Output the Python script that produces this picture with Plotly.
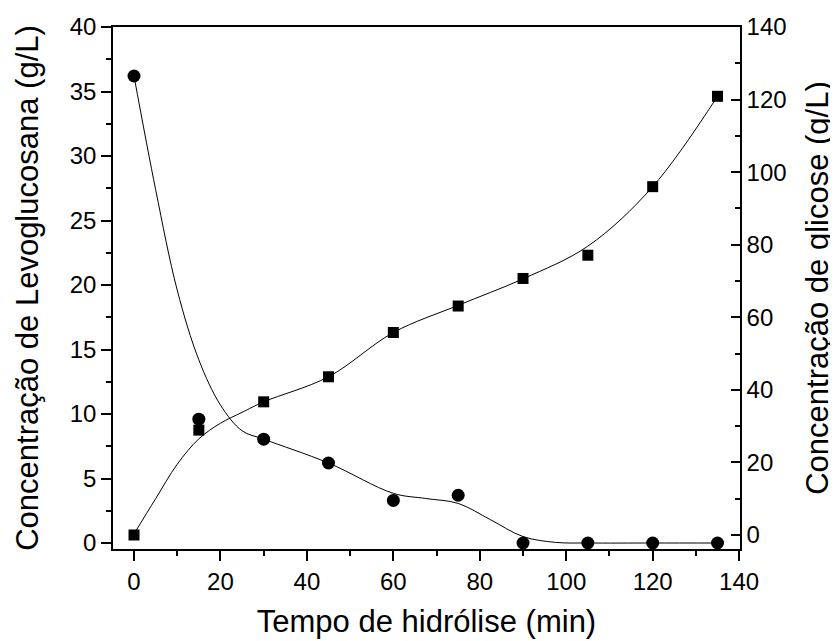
import plotly.graph_objects as go

# measured points
tempo = [0, 15, 30, 45, 60, 75, 90, 105, 120, 135]
levoglucosana = [36.2, 9.6, 8.05, 6.2, 3.3, 3.7, 0.0, 0.0, 0.0, 0.0]
glicose = [0.0, 28.9, 36.7, 43.6, 55.8, 63.1, 70.7, 77.1, 96.0, 120.9]

# fitted curves
lev_fit_t = [0, 5, 10, 15, 20, 25, 30, 45, 60, 67.5, 75, 82.5, 90, 97.5, 105, 120, 135]
lev_fit = [36.2, 27.4, 19.6, 14.2, 10.7, 8.7, 8.05, 6.2, 3.85, 3.45, 3.07, 1.8, 0.5, 0.05, 0.0, 0.0, 0.0]
glu_fit_t = [0, 5, 10, 15, 20, 25, 30, 45, 60, 75, 90, 105, 120, 135]
glu_fit = [0.3, 10.0, 19.5, 26.5, 30.8, 33.8, 36.7, 43.6, 55.8, 63.3, 70.6, 79.6, 96.0, 120.9]

FONT = "Liberation Sans, Arial, sans-serif"
# the page body adds an 8px offset, so margins are shifted to compensate
OFF = 8

fig = go.Figure()

fig.add_trace(go.Scatter(
    x=lev_fit_t, y=lev_fit, mode="lines",
    line=dict(color="black", width=1, shape="spline", smoothing=1),
    showlegend=False, yaxis="y",
))
fig.add_trace(go.Scatter(
    x=glu_fit_t, y=glu_fit, mode="lines",
    line=dict(color="black", width=1, shape="spline", smoothing=1),
    showlegend=False, yaxis="y2",
))
fig.add_trace(go.Scatter(
    x=tempo, y=glicose, mode="markers",
    marker=dict(symbol="square", size=11, color="black"),
    name="Glicose", showlegend=False, yaxis="y2",
))
fig.add_trace(go.Scatter(
    x=tempo, y=levoglucosana, mode="markers",
    marker=dict(symbol="circle", size=13, color="black"),
    name="Levoglucosana", showlegend=False, yaxis="y",
))

fig.update_layout(
    width=838,
    height=641,
    margin=dict(l=113 - OFF, r=98 + OFF, t=27 - OFF, b=92 + OFF),
    paper_bgcolor="white",
    plot_bgcolor="white",
    font=dict(family=FONT, color="black", size=24),
    xaxis=dict(
        range=[-4.86, 140.2],
        tickvals=[0, 20, 40, 60, 80, 100, 120, 140],
        ticks="outside", ticklen=10, tickwidth=1.5, tickcolor="black",
        minor=dict(dtick=10, tick0=0, ticks="outside", ticklen=5, tickwidth=1.5, tickcolor="black"),
        showline=True, linecolor="black", linewidth=1.5, mirror=True,
        showgrid=False, zeroline=False, automargin=False,
        tickfont=dict(size=24),
        title=dict(text="Tempo de hidrólise (min)", font=dict(size=31), standoff=17),
    ),
    yaxis=dict(
        range=[-0.465, 40],
        tickvals=[0, 5, 10, 15, 20, 25, 30, 35, 40],
        ticks="outside", ticklen=10, tickwidth=1.5, tickcolor="black",
        minor=dict(dtick=2.5, tick0=0, ticks="outside", ticklen=5, tickwidth=1.5, tickcolor="black"),
        showline=True, linecolor="black", linewidth=1.5,
        showgrid=False, zeroline=False, automargin=False,
        tickfont=dict(size=24),
        title=dict(text="Concentração de Levoglucosana (g/L)", font=dict(size=31), standoff=22),
    ),
    yaxis2=dict(
        overlaying="y", side="right",
        range=[-3.86, 140],
        tickvals=[0, 20, 40, 60, 80, 100, 120, 140],
        ticks="inside", ticklen=9, tickwidth=1.5, tickcolor="black",
        minor=dict(dtick=10, tick0=0, ticks="inside", ticklen=5, tickwidth=1.5, tickcolor="black"),
        showline=True, linecolor="black", linewidth=1.5,
        showgrid=False, zeroline=False, automargin=False,
        tickfont=dict(size=24),
        title=dict(text="Concentração de glicose (g/L)", font=dict(size=31), standoff=21),
    ),
)

fig.write_html("out.html")
